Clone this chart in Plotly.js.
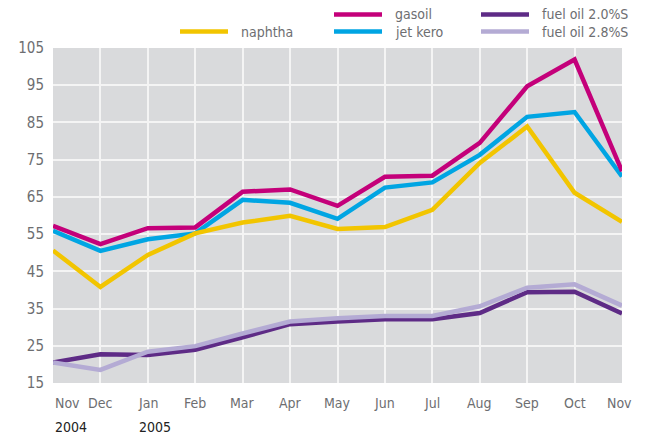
<!DOCTYPE html>
<html>
<head>
<meta charset="utf-8">
<script src="https://cdn.plot.ly/plotly-3.0.1.min.js"></script>
<style>html,body{margin:0;padding:0;background:#fff;}#chart{width:646px;height:437px;}</style>
</head>
<body>
<div id="chart"></div>
<script>
const months = ["Nov","Dec","Jan","Feb","Mar","Apr","May","Jun","Jul","Aug","Sep","Oct","Nov"];
const years = [{label:"2004", idx:0}, {label:"2005", idx:2}];
const yTicks = [15,25,35,45,55,65,75,85,95,105];

const naphtha   = [50.6,40.8,49.4,55.2,58.1,59.9,56.4,56.9,61.5,74.1,83.9,66.1,58.3];
const gasoil    = [57.2,52.3,56.6,56.8,66.4,67.0,62.6,70.4,70.7,79.5,94.7,101.9,71.9];
const jetKero   = [55.9,50.5,53.6,55.2,64.2,63.4,59.1,67.5,68.9,76.3,86.5,87.8,70.5];
const fuelOil20 = [20.5,22.7,22.5,23.9,27.3,30.8,31.5,32.1,32.1,33.8,39.4,39.5,33.7];
const fuelOil28 = [20.5,18.5,23.4,24.9,28.3,31.5,32.4,33.0,33.0,35.6,40.6,41.5,35.8];

const names = {naphtha:"naphtha", gasoil:"gasoil", jet:"jet kero", fo20:"fuel oil 2.0%S", fo28:"fuel oil 2.8%S"};
const colors = {naphtha:"#f2c500", gasoil:"#c4007a", jet:"#00a5e3", fo20:"#5e2b86", fo28:"#b4abd4"};

const FONT = "'Liberation Sans Narrow', 'DejaVu Sans Condensed', Arial, sans-serif";
const GRAY = "#6d6e71";

const W = 646, H = 437;
const M = {l:53, r:24, t:48, b:54};
const pw = W - M.l - M.r, ph = H - M.t - M.b;
const px = v => (v - M.l) / pw;
const py = v => (H - M.b - v) / ph;

const idx = months.map((_, i) => i);
function tr(y, key) {
  return {x: idx, y: y, type: "scatter", mode: "lines", name: names[key],
    line: {color: colors[key], width: 4.5}, hoverinfo: "skip", showlegend: false};
}
const data = [tr(fuelOil20,"fo20"), tr(fuelOil28,"fo28"), tr(jetKero,"jet"), tr(gasoil,"gasoil"), tr(naphtha,"naphtha")];

// legend (custom positioned)
const legendItems = [
  {key:"naphtha", x0:180, y:31.5},
  {key:"gasoil", x0:334, y:14.5},
  {key:"jet", x0:334, y:31.5},
  {key:"fo20", x0:481, y:14.5},
  {key:"fo28", x0:481, y:31.5}
];
const shapes = [], annotations = [];
legendItems.forEach(it => {
  shapes.push({type:"line", xref:"paper", yref:"paper", x0:px(it.x0), x1:px(it.x0+48), y0:py(it.y), y1:py(it.y),
    line:{color:colors[it.key], width:4.5}});
  annotations.push({xref:"paper", yref:"paper", x:px(it.x0+59), y:py(it.y), xanchor:"left", yanchor:"middle",
    text:names[it.key], showarrow:false, font:{family:FONT, size:14, color:GRAY}});
});
// month labels
months.forEach((m, i) => {
  let shift = 0;
  if (i === 0) shift = 14;
  if (i === months.length - 1) shift = -3;
  annotations.push({xref:"x", yref:"paper", x:i, y:py(403), xanchor:"center", yanchor:"middle", xshift:shift,
    text:m, showarrow:false, font:{family:FONT, size:14, color:GRAY}});
});
years.forEach(yr => {
  annotations.push({xref:"x", yref:"paper", x:yr.idx, y:py(427), xanchor:"left", yanchor:"middle",
    xshift: yr.idx === 0 ? 0 : -11,
    text:yr.label, showarrow:false, font:{family:FONT, size:14, color:"#222"}});
});

const layout = {
  width: W, height: H,
  margin: M,
  paper_bgcolor: "#ffffff",
  plot_bgcolor: "#d9dadc",
  showlegend: false,
  xaxis: {range:[0, 12], tickmode:"array", tickvals: idx, showticklabels:false, showgrid:true,
    gridcolor:"#f4f4f4", gridwidth:2, zeroline:false, showline:false, ticks:"", fixedrange:true},
  yaxis: {range:[15, 105], tickmode:"array", tickvals: yTicks, ticktext: yTicks.map(String),
    showgrid:true, gridcolor:"#f4f4f4", gridwidth:2, zeroline:false, showline:false, ticks:"",
    ticklabelstandoff: 8, tickfont:{family:FONT, size:15, color:GRAY}, fixedrange:true},
  shapes: shapes,
  annotations: annotations
};

Plotly.newPlot("chart", data, layout, {displayModeBar:false, staticPlot:true});
</script>
</body>
</html>
